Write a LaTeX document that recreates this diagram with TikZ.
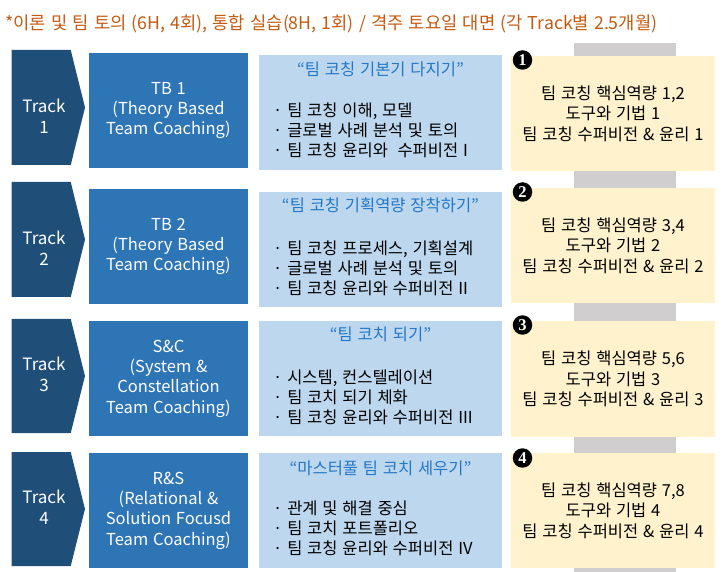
\documentclass[tikz,border=0pt]{standalone}
\usepackage{fontspec}
\setmainfont{Noto Sans CJK KR}[WordSpace=1.3]
\newfontfamily\numfont{Liberation Serif}
\definecolor{trkc}{HTML}{1F4E79}
\definecolor{tbc}{HTML}{2E75B6}
\definecolor{lbc}{HTML}{BDD7EE}
\definecolor{lbtitle}{HTML}{2478C8}
\definecolor{ylc}{HTML}{FFF2CC}
\definecolor{grayc}{HTML}{D0CECE}
\definecolor{orangec}{HTML}{C55A11}
\begin{document}
\begin{tikzpicture}[x=1pt,y=-1pt,
  chev/.style={fill=trkc},
  chevtext/.style={text=white,align=center,inner sep=0pt,font=\fontsize{17}{21}\selectfont},
  tbbox/.style={fill=tbc,text=white,align=center,inner sep=0pt,minimum width=159pt,font=\fontsize{16.5}{20.3}\selectfont},
  lbbox/.style={fill=lbc,inner sep=0pt,minimum width=243pt},
  lbhead/.style={text=lbtitle,inner sep=0pt,font=\fontsize{16.5}{20}\selectfont},
  lbitems/.style={text=black,anchor=west,align=left,inner sep=0pt,font=\fontsize{16.5}{20}\selectfont},
  ylbox/.style={fill=ylc,text=black,align=center,inner sep=0pt,minimum width=204pt,font=\fontsize{16.5}{20.5}\selectfont},
  numdot/.style={circle,fill=black,text=white,inner sep=0pt,minimum size=19.5pt,font=\numfont\bfseries\fontsize{16.5}{16.5}\selectfont},
  grayband/.style={fill=grayc},
  headline/.style={text=orangec,anchor=west,inner sep=0pt,font=\fontsize{17.7}{19}\selectfont}
]
\useasboundingbox (0,0) rectangle (721,572);
% title
\node[headline] (title) at (5,24) {*이론 및 팀 토의 (6H, 4회), 통합 실습(8H, 1회) / 격주 토요일 대면 (각 Track별 2.5개월)};
% gray band behind the yellow boxes
\fill[grayband] (574,43) rectangle (676,572);

% ---------- Row 1 ----------
\fill[chev] (11.7,50) -- (70.7,50) -- (85,107.5) -- (70.7,165) -- (11.7,165) -- cycle;
\node[chevtext] (trk1) at (44,116) {Track\\1};
\node[tbbox,minimum height=115pt] (tb1) at (168.5,110.5) {TB 1\\(Theory Based\\Team Coaching)};
\node[lbbox,minimum height=115pt] (lb1) at (380.5,112.5) {};
\node[lbhead] (lbh1) at (380.5,69) {“팀 코칭 기본기 다지기”};
\node[lbitems] (lbi1) at (273,130) {· 팀 코칭 이해, 모델\\· 글로벌 사례 분석 및 토의\\· 팀 코칭 윤리와~ 수퍼비전 I};
\node[ylbox,minimum height=115pt] (yl1) at (613,113.5) {팀 코칭 핵심역량 1,2\\도구와 기법 1\\팀 코칭 수퍼비전 \& 윤리 1};
\node[numdot] (n1) at (522.5,60) {1};

% ---------- Row 2 ----------
\fill[chev] (11.7,182) -- (70.7,182) -- (85,239.5) -- (70.7,297) -- (11.7,297) -- cycle;
\node[chevtext] (trk2) at (44,248.5) {Track\\2};
\node[tbbox,minimum height=115pt] (tb2) at (168.5,246.5) {TB 2\\(Theory Based\\Team Coaching)};
\node[lbbox,minimum height=115pt] (lb2) at (380.5,249.5) {};
\node[lbhead] (lbh2) at (380.5,205) {“팀 코칭 기획역량 장착하기”};
\node[lbitems] (lbi2) at (273,268) {· 팀 코칭 프로세스, 기획설계\\· 글로벌 사례 분석 및 토의\\· 팀 코칭 윤리와 수퍼비전 II};
\node[ylbox,minimum height=115pt] (yl2) at (613,245.5) {팀 코칭 핵심역량 3,4\\도구와 기법 2\\팀 코칭 수퍼비전 \& 윤리 2};
\node[numdot] (n2) at (522.5,192) {2};

% ---------- Row 3 ----------
\fill[chev] (11.7,319) -- (70.7,319) -- (85,376) -- (70.7,433) -- (11.7,433) -- cycle;
\node[chevtext] (trk3) at (44,374) {Track\\3};
\node[tbbox,minimum height=115pt] (tb3) at (168.5,378.5) {S\&C\\(System \&\\Constellation\\Team Coaching)};
\node[lbbox,minimum height=115pt] (lb3) at (380.5,378.5) {};
\node[lbhead] (lbh3) at (380.5,334) {“팀 코치 되기”};
\node[lbitems] (lbi3) at (273,397) {· 시스템, 컨스텔레이션\\· 팀 코치 되기 체화\\· 팀 코칭 윤리와 수퍼비전 III};
\node[ylbox,minimum height=116pt] (yl3) at (613,379) {팀 코칭 핵심역량 5,6\\도구와 기법 3\\팀 코칭 수퍼비전 \& 윤리 3};
\node[numdot] (n3) at (522.5,325) {3};

% ---------- Row 4 ----------
\fill[chev] (11.7,452) -- (70.7,452) -- (85,509) -- (70.7,566) -- (11.7,566) -- cycle;
\node[chevtext] (trk4) at (44,507) {Track\\4};
\node[tbbox,minimum height=115pt] (tb4) at (168.5,510.5) {R\&S\\(Relational \&\\Solution Focusd\\Team Coaching)};
\node[lbbox,minimum height=115pt] (lb4) at (380.5,510.5) {};
\node[lbhead] (lbh4) at (380.5,468) {“마스터풀 팀 코치 세우기”};
\node[lbitems] (lbi4) at (273,528) {· 관계 및 해결 중심\\· 팀 코치 포트폴리오\\· 팀 코칭 윤리와 수퍼비전 IV};
\node[ylbox,minimum height=115pt] (yl4) at (613,510.5) {팀 코칭 핵심역량 7,8\\도구와 기법 4\\팀 코칭 수퍼비전 \& 윤리 4};
\node[numdot] (n4) at (522.5,458) {4};
\end{tikzpicture}
\end{document}
